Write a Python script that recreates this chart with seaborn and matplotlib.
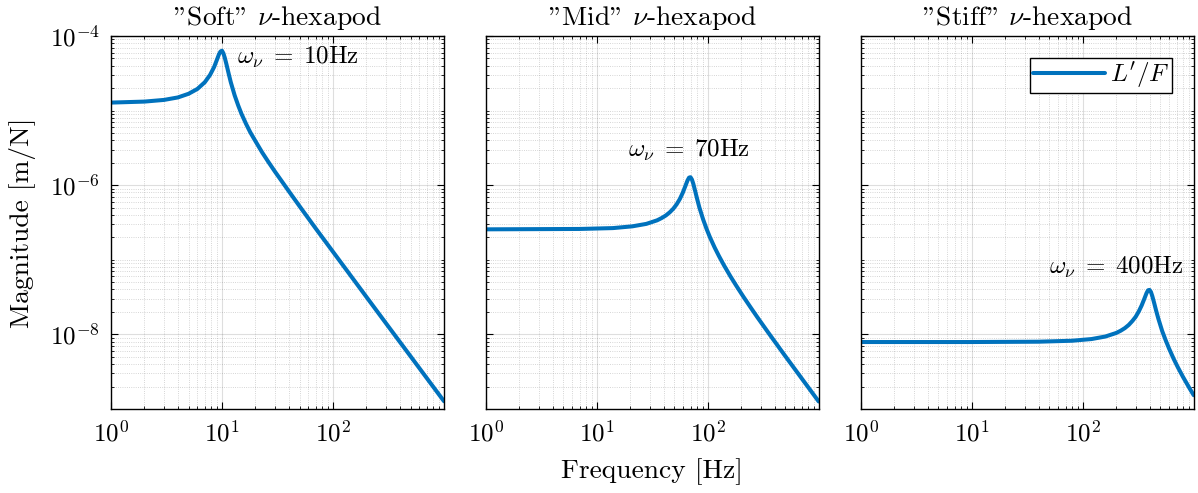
import matplotlib
matplotlib.use("Agg")
import numpy as np
import pandas as pd
import matplotlib.pyplot as plt
import seaborn as sns
from matplotlib.ticker import FixedLocator, LogLocator, NullFormatter

sns.set_theme(style="ticks")
plt.rcParams['font.family'] = ['cmr10', 'DejaVu Serif']
plt.rcParams['mathtext.fontset'] = 'cm'
plt.rcParams['axes.formatter.use_mathtext'] = True
plt.rcParams['axes.unicode_minus'] = False
for k in ['text.color', 'axes.labelcolor', 'xtick.color', 'ytick.color']:
    plt.rcParams[k] = 'black'

# values (frequency [Hz], magnitude [m/N])
freq_soft = [1, 2, 3, 4, 5, 6, 7, 7.8, 8.5, 9, 9.4, 9.7, 10, 10.3, 10.6, 11, 11.5, 12, 13, 14,
             15, 16.5, 18, 20, 23, 26, 30, 35, 40, 50, 70, 100, 150, 200, 300, 500, 700, 1000]
mag_soft = [1.28e-5, 1.32e-5, 1.39e-5, 1.50e-5, 1.68e-5, 1.95e-5, 2.40e-5, 3.0e-5, 3.85e-5, 4.8e-5,
            5.7e-5, 6.2e-5, 6.35e-5, 5.85e-5, 5.1e-5, 4.1e-5, 3.1e-5, 2.4e-5, 1.6e-5, 1.17e-5,
            9.0e-6, 6.6e-6, 5.1e-6, 3.9e-6, 2.75e-6, 2.08e-6, 1.52e-6, 1.1e-6, 8.3e-7, 5.22e-7,
            2.62e-7, 1.28e-7, 5.67e-8, 3.18e-8, 1.41e-8, 5.08e-9, 2.59e-9, 1.27e-9]

freq_mid = [1, 7, 14, 21, 28, 35, 38.5, 42, 45.5, 49, 52.5, 56, 59.5, 63, 65.8, 67.9, 70, 72.1,
            74.2, 77, 80.5, 84, 91, 98, 105, 115.5, 126, 140, 161, 182, 210, 245, 280, 350, 490,
            700, 1000]
mag_mid = [2.56e-7, 2.59e-7, 2.66e-7, 2.81e-7, 3.03e-7, 3.38e-7, 3.63e-7, 3.93e-7, 4.33e-7,
           4.84e-7, 5.54e-7, 6.5e-7, 7.87e-7, 9.78e-7, 1.158e-6, 1.262e-6, 1.28e-6, 1.19e-6,
           1.043e-6, 8.42e-7, 6.46e-7, 5.07e-7, 3.47e-7, 2.56e-7, 1.99e-7, 1.46e-7, 1.13e-7,
           8.46e-8, 5.93e-8, 4.43e-8, 3.19e-8, 2.27e-8, 1.70e-8, 1.065e-8, 5.33e-9, 2.59e-9,
           1.26e-9]

freq_stiff = [1, 10, 40, 80, 120, 160, 200, 220, 240, 260, 280, 300, 320, 340, 360, 376, 388,
              400, 412, 424, 440, 460, 480, 520, 560, 600, 660, 720, 800, 920, 1000]
mag_stiff = [7.9e-9, 7.9e-9, 7.98e-9, 8.22e-9, 8.66e-9, 9.36e-9, 1.044e-8, 1.12e-8, 1.215e-8,
             1.34e-8, 1.51e-8, 1.72e-8, 2.03e-8, 2.45e-8, 3.03e-8, 3.58e-8, 3.9e-8, 3.95e-8,
             3.7e-8, 3.25e-8, 2.65e-8, 2.05e-8, 1.63e-8, 1.11e-8, 8.3e-9, 6.45e-9, 4.7e-9,
             3.62e-9, 2.7e-9, 1.88e-9, 1.53e-9]

titles = ['"Soft" $\\nu$-hexapod', '"Mid" $\\nu$-hexapod', '"Stiff" $\\nu$-hexapod']
notes = ['$\\omega_\\nu\\;=\\;10$Hz', '$\\omega_\\nu\\;=\\;70$Hz', '$\\omega_\\nu\\;=\\;400$Hz']

blue = '#0072BD'
fig = plt.figure(figsize=(11.98, 4.93), dpi=100)
lefts = [111 / 1198, 485.7 / 1198, 860.7 / 1198]
axs = [fig.add_axes([l, 0.1704, 333 / 1198, 0.7566]) for l in lefts]

data = [(freq_soft, mag_soft), (freq_mid, mag_mid), (freq_stiff, mag_stiff)]
for i, (ax, (f, m)) in enumerate(zip(axs, data)):
    df = pd.DataFrame({'f': f, 'mag': m})
    sns.lineplot(data=df, x='f', y='mag', ax=ax, color=blue, linewidth=2.9,
                 sort=False, estimator=None, label="$L'/F$" if i == 2 else None)
    ax.set_xscale('log')
    ax.set_yscale('log')
    ax.set_xlim(1, 1000)
    ax.set_ylim(1e-9, 1e-4)
    ax.xaxis.set_major_locator(FixedLocator([1, 10, 100]))
    ax.xaxis.set_minor_locator(LogLocator(base=10, subs=np.arange(1, 10), numticks=20))
    ax.yaxis.set_major_locator(FixedLocator([1e-8, 1e-6, 1e-4]))
    ax.yaxis.set_minor_locator(LogLocator(base=10, subs=np.arange(1, 10), numticks=20))
    ax.xaxis.set_minor_formatter(NullFormatter())
    ax.yaxis.set_minor_formatter(NullFormatter())
    ax.grid(which='major', color='#262626', alpha=0.15, linewidth=0.8)
    ax.grid(which='minor', color='#262626', alpha=0.25, linewidth=0.6, linestyle=':')
    ax.tick_params(which='both', direction='in', top=True, right=True, labelsize=18, color='black')
    ax.tick_params(which='major', length=5, width=0.8, pad=8)
    ax.tick_params(which='minor', length=2.5, width=0.6)
    for s in ax.spines.values():
        s.set_color('black')
        s.set_linewidth(1.0)
    ax.set_title(titles[i], fontsize=19.8, pad=8)
    ax.set_xlabel('')
    ax.set_ylabel('')
    if i > 0:
        ax.tick_params(labelleft=False)

axs[0].text(13.6, 5.2e-5, notes[0], ha='left', va='center', fontsize=18)
axs[1].text(68, 2.95e-6, notes[1], ha='center', va='center', fontsize=18)
axs[2].text(806, 8.0e-8, notes[2], ha='right', va='center', fontsize=18)

axs[0].set_ylabel('Magnitude [m/N]', fontsize=19.8)
axs[0].yaxis.set_label_coords(-0.225, 0.5)
axs[1].set_xlabel('Frequency [Hz]', fontsize=19.8, labelpad=9)

leg = axs[2].legend(loc='upper right', bbox_to_anchor=(0.935, 0.941), borderaxespad=0,
                    fontsize=18, frameon=True, fancybox=False, framealpha=1,
                    edgecolor='black', handlelength=2.9, handletextpad=0.2, borderpad=0.1)
leg.get_frame().set_linewidth(1.0)

fig.savefig('out.png', dpi=100)
